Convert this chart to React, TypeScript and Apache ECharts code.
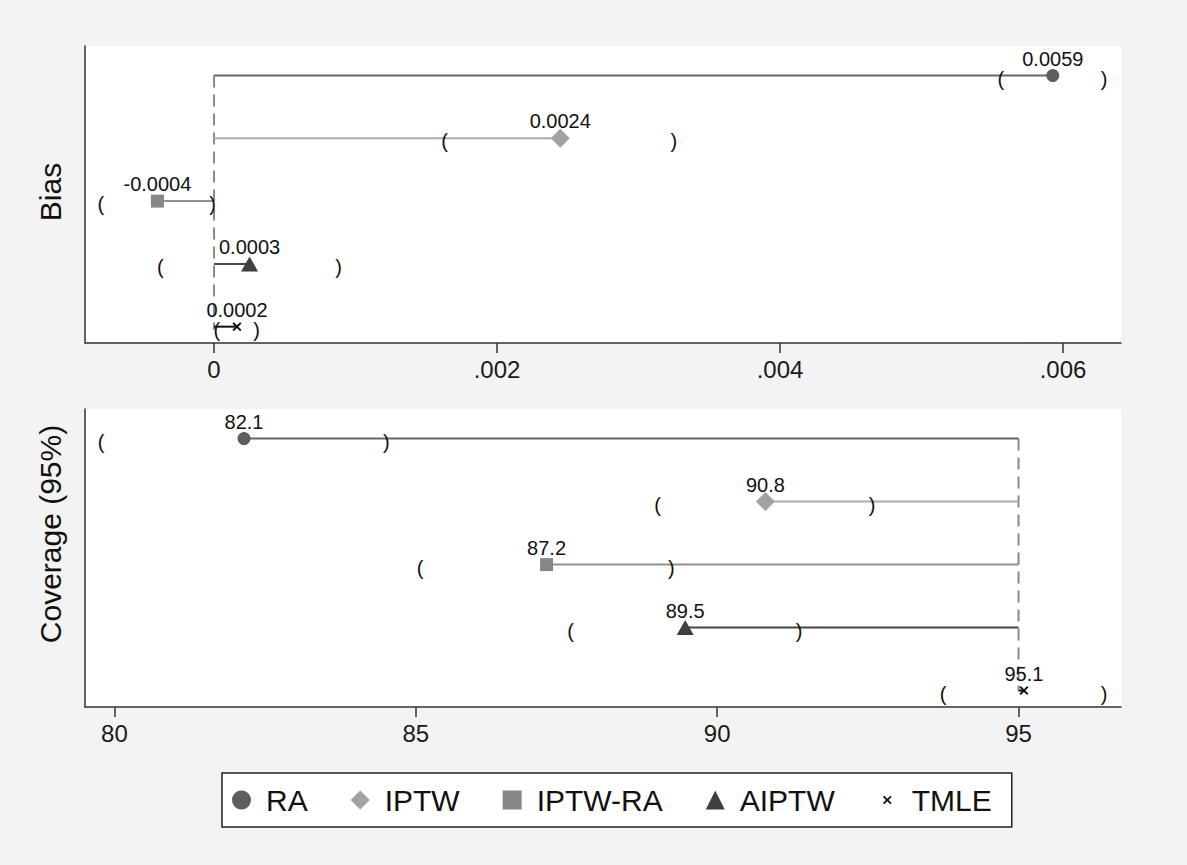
import React, { useEffect, useRef } from "react";
import * as echarts from "echarts";

const FONT = "'Liberation Sans', Arial, Helvetica, sans-serif";

const methods = ["RA", "IPTW", "IPTW-RA", "AIPTW", "TMLE"];
const rows = [5, 4, 3, 2, 1];

const biasEst = [0.005928, 0.002447, -0.0004, 0.000251, 0.000162];
const biasLabels = ["0.0059", "0.0024", "-0.0004", "0.0003", "0.0002"];
const biasLow = [0.00556, 0.00163, -0.0008, -0.00038, 0.00002];
const biasHigh = [0.00629, 0.00325, -0.00001, 0.00088, 0.0003];
const biasRef = 0;
const biasTicks = [0, 0.002, 0.004, 0.006];
const biasTickLabels = ["0", ".002", ".004", ".006"];

const covEst = [82.15, 90.8, 87.17, 89.47, 95.09];
const covLabels = ["82.1", "90.8", "87.2", "89.5", "95.1"];
const covLow = [79.78, 89.01, 85.07, 87.57, 93.75];
const covHigh = [84.51, 92.57, 89.24, 91.36, 96.42];
const covRef = 95;
const covTicks = [80, 85, 90, 95];
const covTickLabels = ["80", "85", "90", "95"];

const colors = ["#5e5e5e", "#a2a2a2", "#878787", "#3f3f3f", "#111111"];
const lineColors = ["#666666", "#ababab", "#909090", "#454545", "#111111"];
const xShape =
  "M0,1.5 L1.5,0 L5,3.5 L8.5,0 L10,1.5 L6.5,5 L10,8.5 L8.5,10 L5,6.5 L1.5,10 L0,8.5 L3.5,5 Z";
const xPath = "path://" + xShape;
const xLegendPath = "path://M-6,-6 L-6,-6 Z M16,16 L16,16 Z " + xShape;
const symbols = ["circle", "diamond", "rect", "triangle", xPath];
const symbolSizes: any[] = [13, 19, 13, [17, 15], 9];

export default function App() {
  const ref = useRef<HTMLDivElement>(null);

  useEffect(() => {
    if (!ref.current) return;
    const chart = echarts.init(ref.current, undefined, { renderer: "svg" });

    const series: any[] = [];
    const panels = [
      { est: biasEst, low: biasLow, high: biasHigh, labels: biasLabels, refv: biasRef, refBottom: 0.95 },
      { est: covEst, low: covLow, high: covHigh, labels: covLabels, refv: covRef, refBottom: 1 },
    ];

    panels.forEach((p, pi) => {
      series.push({
        type: "line",
        name: "ref" + pi,
        xAxisIndex: pi,
        yAxisIndex: pi,
        data: [
          [p.refv, rows[0]],
          [p.refv, p.refBottom],
        ],
        symbol: "none",
        silent: true,
        z: 1,
        lineStyle: { color: "#8a8a8a", width: 2, type: [12, 7] },
      });
      methods.forEach((m, i) => {
        series.push({
          type: "line",
          name: m + "-seg" + pi,
          xAxisIndex: pi,
          yAxisIndex: pi,
          data: [
            [p.refv, rows[i]],
            [p.est[i], rows[i]],
          ],
          symbol: "none",
          silent: true,
          z: 2,
          lineStyle: { color: lineColors[i], width: 2 },
        });
      });
      methods.forEach((m, i) => {
        series.push({
          type: "scatter",
          name: m,
          xAxisIndex: pi,
          yAxisIndex: pi,
          data: [[p.est[i], rows[i]]],
          symbol: symbols[i],
          symbolSize: symbolSizes[i],
          itemStyle: { color: colors[i], opacity: 1 },
          z: 3,
          label: {
            show: true,
            position: "inside",
            offset: [0, -17],
            formatter: () => p.labels[i],
            fontSize: 20,
            color: "#111",
            fontFamily: FONT,
          },
        });
      });
      [
        { vals: p.low, ch: "(" },
        { vals: p.high, ch: ")" },
      ].forEach((b) => {
        series.push({
          type: "custom",
          name: "br" + b.ch + pi,
          xAxisIndex: pi,
          yAxisIndex: pi,
          silent: true,
          z: 4,
          data: b.vals.map((v, i) => [v, rows[i]]),
          renderItem: (params: any, api: any) => {
            const pt = api.coord([api.value(0), api.value(1)]);
            return {
              type: "text",
              x: pt[0],
              y: pt[1] + 3,
              style: {
                text: b.ch,
                fontSize: 20,
                fontFamily: FONT,
                fill: "#111",
                align: "center",
                verticalAlign: "middle",
              },
            };
          },
        });
      });
    });

    const axisLineStyle = { color: "#333", width: 1.5 };

    const option: any = {
      animation: false,
      backgroundColor: "#f3f3f3",
      textStyle: { fontFamily: FONT },
      grid: [
        { left: 85, top: 46, width: 1036, height: 297, show: true, backgroundColor: "#fff", borderWidth: 0 },
        { left: 85, top: 409, width: 1036, height: 298, show: true, backgroundColor: "#fff", borderWidth: 0 },
      ],
      xAxis: [
        {
          type: "value",
          gridIndex: 0,
          min: -0.000912,
          max: 0.00641,
          axisLine: { show: true, onZero: false, lineStyle: axisLineStyle },
          axisTick: { show: true, length: 10, customValues: biasTicks, lineStyle: axisLineStyle },
          axisLabel: {
            customValues: biasTicks,
            formatter: (v: number) => {
              const k = biasTicks.findIndex((t) => Math.abs(t - v) < 1e-9);
              return k >= 0 ? biasTickLabels[k] : "";
            },
            fontSize: 24,
            color: "#1a1a1a",
            margin: 14,
            fontFamily: FONT,
          },
          splitLine: { show: false },
        },
        {
          type: "value",
          gridIndex: 1,
          min: 79.512,
          max: 96.7,
          axisLine: { show: true, onZero: false, lineStyle: axisLineStyle },
          axisTick: { show: true, length: 10, customValues: covTicks, lineStyle: axisLineStyle },
          axisLabel: {
            customValues: covTicks,
            formatter: (v: number) => {
              const k = covTicks.findIndex((t) => Math.abs(t - v) < 1e-9);
              return k >= 0 ? covTickLabels[k] : "";
            },
            fontSize: 24,
            color: "#1a1a1a",
            margin: 14,
            fontFamily: FONT,
          },
          splitLine: { show: false },
        },
      ],
      yAxis: [0, 1].map((gi) => ({
        type: "value",
        gridIndex: gi,
        min: 0.74,
        max: 5.47,
        axisLine: { show: true, onZero: false, lineStyle: axisLineStyle },
        axisTick: { show: false },
        axisLabel: { show: false },
        splitLine: { show: false },
      })),
      legend: {
        data: methods.map((m, i) => (i === 4 ? { name: m, icon: xLegendPath } : { name: m })),
        left: 222,
        top: 773,
        orient: "horizontal",
        backgroundColor: "#fff",
        borderColor: "#222",
        borderWidth: 1.5,
        borderRadius: 0,
        padding: [12, 20, 12, 10],
        itemGap: 43,
        itemWidth: 19,
        itemHeight: 19,
        selectedMode: false,
        textStyle: { fontSize: 30, color: "#111", fontFamily: FONT, padding: [0, 0, 0, 10] },
      },
      graphic: [
        {
          type: "text",
          x: 50,
          y: 192,
          rotation: Math.PI / 2,
          style: {
            text: "Bias",
            fontSize: 30,
            fontFamily: FONT,
            fill: "#111",
            align: "center",
            verticalAlign: "middle",
          },
        },
        {
          type: "text",
          x: 50,
          y: 534,
          rotation: Math.PI / 2,
          style: {
            text: "Coverage (95%)",
            fontSize: 30,
            fontFamily: FONT,
            fill: "#111",
            align: "center",
            verticalAlign: "middle",
          },
        },
      ],
      series,
    };

    chart.setOption(option);
    return () => chart.dispose();
  }, []);

  return (
    <div
      ref={ref}
      style={{ position: "fixed", left: 0, top: 0, width: 1187, height: 865 }}
    />
  );
}
